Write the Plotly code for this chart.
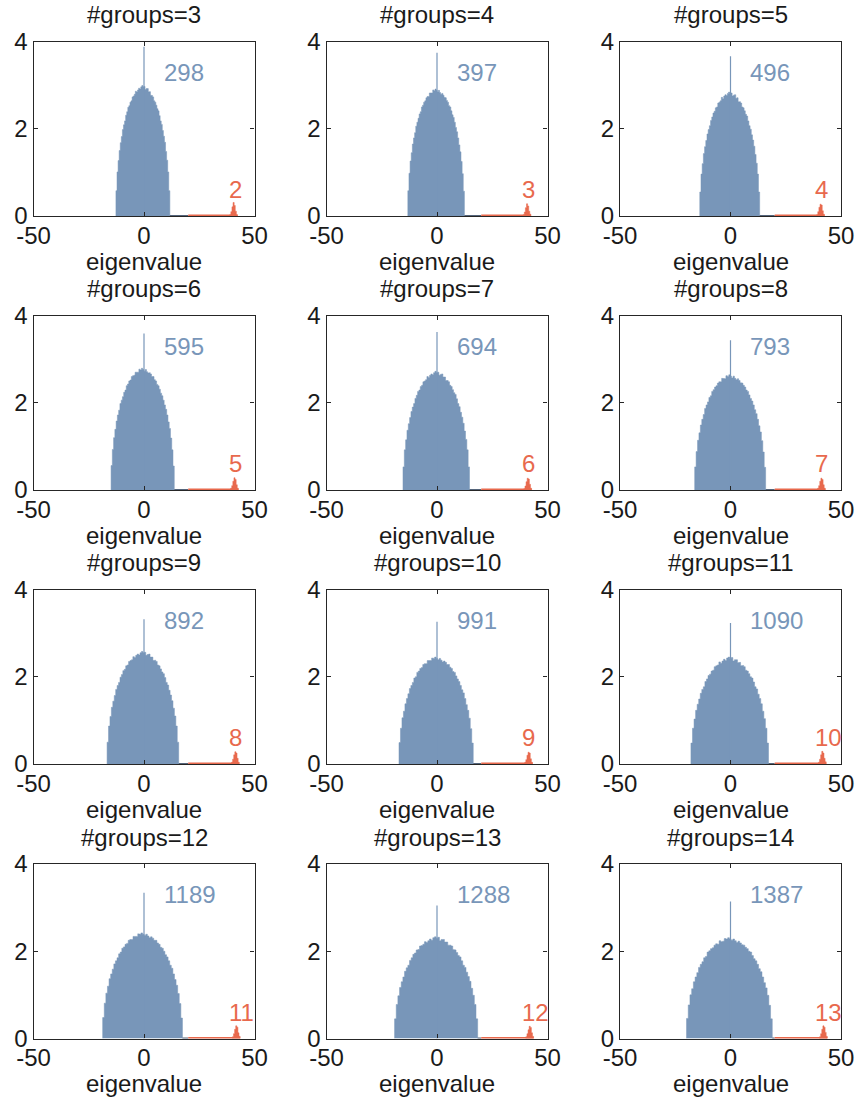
import numpy as np
import plotly.graph_objects as go

# ---- data -------------------------------------------------------------
groups = [3, 4, 5, 6, 7, 8, 9, 10, 11, 12, 13, 14]
bulk_counts = [298, 397, 496, 595, 694, 793, 892, 991, 1090, 1189, 1288, 1387]
outlier_counts = [2, 3, 4, 5, 6, 7, 8, 9, 10, 11, 12, 13]

# bulk histogram: range covered by the 50 bins and the bin heights
bulk_lo = [-12.7, -13.2, -13.9, -14.9, -15.4, -16.2, -16.7, -17.2, -17.9, -18.7, -19.2, -19.9]
bulk_hi = [11.7, 12.4, 13.2, 13.7, 14.7, 15.9, 15.7, 16.4, 17.2, 17.4, 18.4, 18.9]
bulk_heights = [
    [0.58, 1.01, 1.27, 1.50, 1.68, 1.82, 1.98, 2.09, 2.18, 2.31, 2.39, 2.49, 2.53, 2.61, 2.64,
     2.73, 2.75, 2.79, 2.86, 2.84, 2.89, 2.93, 2.91, 2.96, 2.99,
     2.96, 2.97, 2.90, 2.92, 2.92, 2.85, 2.85, 2.77, 2.76, 2.73, 2.64, 2.61, 2.54, 2.46, 2.41,
     2.30, 2.18, 2.10, 1.96, 1.83, 1.69, 1.48, 1.28, 1.01, 0.58],
    [0.58, 0.98, 1.26, 1.45, 1.65, 1.79, 1.91, 2.06, 2.15, 2.24, 2.34, 2.39, 2.50, 2.54, 2.61,
     2.64, 2.71, 2.74, 2.74, 2.82, 2.81, 2.82, 2.89, 2.87, 2.91,
     2.88, 2.84, 2.88, 2.83, 2.79, 2.81, 2.77, 2.72, 2.71, 2.65, 2.61, 2.53, 2.50, 2.41, 2.32,
     2.26, 2.15, 2.03, 1.93, 1.79, 1.63, 1.47, 1.25, 0.97, 0.57],
    [0.55, 0.96, 1.20, 1.43, 1.59, 1.73, 1.88, 1.98, 2.07, 2.19, 2.27, 2.36, 2.40, 2.48, 2.50,
     2.59, 2.61, 2.64, 2.72, 2.69, 2.75, 2.78, 2.76, 2.81, 2.84,
     2.81, 2.82, 2.75, 2.77, 2.78, 2.70, 2.71, 2.62, 2.62, 2.59, 2.50, 2.48, 2.41, 2.33, 2.29,
     2.18, 2.07, 1.99, 1.86, 1.74, 1.60, 1.41, 1.21, 0.96, 0.55],
    [0.56, 0.93, 1.20, 1.39, 1.58, 1.72, 1.83, 1.98, 2.06, 2.14, 2.24, 2.29, 2.39, 2.43, 2.50,
     2.52, 2.60, 2.62, 2.63, 2.70, 2.70, 2.70, 2.77, 2.75, 2.79,
     2.76, 2.72, 2.76, 2.71, 2.68, 2.69, 2.66, 2.60, 2.60, 2.53, 2.50, 2.42, 2.39, 2.31, 2.22,
     2.16, 2.06, 1.95, 1.85, 1.72, 1.56, 1.41, 1.19, 0.92, 0.55],
    [0.53, 0.92, 1.15, 1.37, 1.52, 1.66, 1.80, 1.90, 1.98, 2.10, 2.17, 2.26, 2.29, 2.37, 2.40,
     2.48, 2.50, 2.53, 2.60, 2.58, 2.63, 2.66, 2.64, 2.69, 2.72,
     2.69, 2.70, 2.63, 2.65, 2.66, 2.59, 2.59, 2.51, 2.51, 2.48, 2.40, 2.37, 2.30, 2.23, 2.19,
     2.09, 1.98, 1.91, 1.78, 1.67, 1.53, 1.35, 1.16, 0.92, 0.53],
    [0.53, 0.88, 1.14, 1.31, 1.49, 1.62, 1.73, 1.87, 1.95, 2.02, 2.12, 2.16, 2.26, 2.30, 2.36,
     2.39, 2.45, 2.48, 2.48, 2.56, 2.55, 2.55, 2.62, 2.60, 2.64,
     2.61, 2.57, 2.61, 2.56, 2.53, 2.55, 2.51, 2.46, 2.45, 2.40, 2.36, 2.29, 2.26, 2.18, 2.10,
     2.04, 1.95, 1.84, 1.75, 1.62, 1.47, 1.33, 1.13, 0.87, 0.52],
    [0.50, 0.87, 1.09, 1.30, 1.44, 1.57, 1.71, 1.80, 1.87, 1.99, 2.05, 2.14, 2.17, 2.25, 2.27,
     2.35, 2.37, 2.39, 2.46, 2.44, 2.49, 2.52, 2.50, 2.55, 2.58,
     2.55, 2.56, 2.49, 2.51, 2.52, 2.45, 2.45, 2.37, 2.38, 2.35, 2.27, 2.25, 2.18, 2.11, 2.07,
     1.98, 1.87, 1.81, 1.69, 1.58, 1.45, 1.28, 1.10, 0.87, 0.50],
    [0.49, 0.82, 1.06, 1.21, 1.38, 1.50, 1.61, 1.73, 1.80, 1.87, 1.97, 2.00, 2.10, 2.13, 2.19,
     2.21, 2.28, 2.30, 2.30, 2.37, 2.36, 2.37, 2.43, 2.42, 2.45,
     2.42, 2.39, 2.42, 2.38, 2.34, 2.36, 2.33, 2.28, 2.28, 2.22, 2.19, 2.12, 2.10, 2.02, 1.95,
     1.89, 1.80, 1.70, 1.63, 1.50, 1.36, 1.23, 1.05, 0.81, 0.48],
    [0.48, 0.82, 1.03, 1.23, 1.37, 1.49, 1.62, 1.71, 1.77, 1.89, 1.95, 2.03, 2.06, 2.13, 2.15,
     2.23, 2.25, 2.27, 2.34, 2.31, 2.36, 2.40, 2.37, 2.43, 2.45,
     2.42, 2.44, 2.36, 2.39, 2.39, 2.32, 2.33, 2.25, 2.26, 2.23, 2.15, 2.13, 2.07, 2.00, 1.97,
     1.88, 1.77, 1.72, 1.60, 1.50, 1.38, 1.21, 1.04, 0.82, 0.48],
    [0.48, 0.81, 1.04, 1.20, 1.37, 1.48, 1.59, 1.71, 1.78, 1.85, 1.94, 1.98, 2.07, 2.10, 2.16,
     2.18, 2.25, 2.27, 2.27, 2.34, 2.33, 2.34, 2.40, 2.39, 2.42,
     2.39, 2.36, 2.39, 2.35, 2.31, 2.33, 2.30, 2.25, 2.25, 2.19, 2.16, 2.09, 2.07, 2.00, 1.92,
     1.87, 1.78, 1.68, 1.61, 1.48, 1.35, 1.22, 1.03, 0.80, 0.47],
    [0.45, 0.78, 0.98, 1.17, 1.30, 1.41, 1.54, 1.62, 1.68, 1.79, 1.85, 1.93, 1.96, 2.03, 2.04,
     2.12, 2.13, 2.16, 2.22, 2.20, 2.24, 2.28, 2.25, 2.31, 2.33,
     2.30, 2.32, 2.24, 2.27, 2.27, 2.21, 2.21, 2.14, 2.14, 2.12, 2.04, 2.03, 1.97, 1.90, 1.87,
     1.78, 1.68, 1.63, 1.52, 1.42, 1.31, 1.15, 0.99, 0.78, 0.45],
    [0.46, 0.77, 1.00, 1.14, 1.30, 1.41, 1.51, 1.63, 1.70, 1.76, 1.85, 1.88, 1.98, 2.01, 2.06,
     2.08, 2.14, 2.17, 2.16, 2.24, 2.22, 2.23, 2.29, 2.28, 2.31,
     2.28, 2.25, 2.28, 2.24, 2.20, 2.23, 2.19, 2.15, 2.14, 2.09, 2.06, 2.00, 1.98, 1.90, 1.83,
     1.78, 1.70, 1.60, 1.53, 1.41, 1.28, 1.16, 0.99, 0.76, 0.45],
]
# narrow peak of the bulk at eigenvalue 0
spike_heights = [3.88, 3.74, 3.66, 3.59, 3.62, 3.43, 3.32, 3.26, 3.23, 3.34, 3.05, 3.14]

# outlier histogram: it starts at 20, the bump is made of 0.5-wide bins
outlier_range_start = 20.0
outlier_bump_start = [38.8, 39.0, 39.0, 39.2, 39.3, 39.4, 39.6, 39.7, 39.8, 40.0, 40.2, 40.3]
outlier_heights = [
    [0.03, 0.10, 0.21, 0.31, 0.24, 0.11, 0.03],
    [0.03, 0.09, 0.19, 0.28, 0.23, 0.11, 0.04],
    [0.03, 0.10, 0.20, 0.27, 0.25, 0.12, 0.04],
    [0.04, 0.10, 0.20, 0.28, 0.24, 0.12, 0.04],
    [0.03, 0.09, 0.19, 0.27, 0.25, 0.13, 0.04],
    [0.04, 0.10, 0.20, 0.27, 0.24, 0.12, 0.04],
    [0.04, 0.11, 0.21, 0.28, 0.25, 0.13, 0.04],
    [0.04, 0.10, 0.20, 0.27, 0.25, 0.12, 0.04],
    [0.04, 0.11, 0.21, 0.29, 0.25, 0.13, 0.05],
    [0.04, 0.11, 0.21, 0.29, 0.26, 0.13, 0.05],
    [0.04, 0.11, 0.20, 0.28, 0.25, 0.13, 0.05],
    [0.04, 0.11, 0.21, 0.29, 0.26, 0.14, 0.05],
]
OUTLIER_BIN = 0.5

x_ticks = [-50, 0, 50]
y_ticks = [0, 2, 4]

# ---- style ------------------------------------------------------------
BLUE = "#7896b9"
BLUE_DARK = "#55657b"
RED = "#e8694d"
AXIS = "#262626"
TEXT = "#1a1a1a"
FONT = "Liberation Sans, Arial, Helvetica, sans-serif"
FS = 24

W, H = 858, 1101
col_left = [33.5, 326.5, 620.0]
panel_w = 221.0
row_top = [41.5, 315.5, 589.5, 864.0]
panel_h = 174.5


def step_outline(edges, heights):
    """Vertices of a histogram outline drawn as a closed step polygon."""
    xs = [edges[0]]
    ys = [0.0]
    for j, h in enumerate(heights):
        xs += [edges[j], edges[j + 1]]
        ys += [h, h]
    xs.append(edges[-1])
    ys.append(0.0)
    return xs, ys


fig = go.Figure()
annotations = []
layout_axes = {}

for i, g in enumerate(groups):
    r, c = divmod(i, 3)
    k = i + 1
    xa = "x" if k == 1 else f"x{k}"
    ya = "y" if k == 1 else f"y{k}"

    left = col_left[c]
    top = row_top[r]
    bottom = top + panel_h
    xdom = [left / W, (left + panel_w) / W]
    ydom = [1 - bottom / H, 1 - top / H]

    # bulk histogram
    heights = bulk_heights[i]
    edges = np.linspace(bulk_lo[i], bulk_hi[i], len(heights) + 1)
    bx, by = step_outline(edges, heights)
    fig.add_trace(go.Scatter(
        x=bx, y=by, xaxis=xa, yaxis=ya, mode="lines",
        line=dict(color=BLUE, width=0.5), fill="toself", fillcolor=BLUE,
        showlegend=False, hoverinfo="skip",
    ))
    # zero-height part of the bulk histogram up to the outlier range
    fig.add_trace(go.Scatter(
        x=[bulk_hi[i], outlier_range_start], y=[0, 0], xaxis=xa, yaxis=ya,
        mode="lines", line=dict(color=BLUE_DARK, width=2),
        showlegend=False, hoverinfo="skip", cliponaxis=False,
    ))
    # spike at zero
    fig.add_trace(go.Scatter(
        x=[0, 0], y=[0, spike_heights[i]], xaxis=xa, yaxis=ya, mode="lines",
        line=dict(color=BLUE, width=1.2),
        showlegend=False, hoverinfo="skip",
    ))

    # outlier histogram
    oh = outlier_heights[i]
    oedges = outlier_bump_start[i] + OUTLIER_BIN * np.arange(len(oh) + 1)
    fig.add_trace(go.Scatter(
        x=[outlier_range_start, oedges[-1]], y=[0, 0], xaxis=xa, yaxis=ya,
        mode="lines", line=dict(color=RED, width=3),
        showlegend=False, hoverinfo="skip", cliponaxis=False,
    ))
    rx, ry = step_outline(oedges, oh)
    fig.add_trace(go.Scatter(
        x=rx, y=ry, xaxis=xa, yaxis=ya, mode="lines",
        line=dict(color=RED, width=0.5), fill="toself", fillcolor=RED,
        showlegend=False, hoverinfo="skip",
    ))

    axis_common = dict(
        showline=True, linecolor=AXIS, linewidth=1.3, mirror="ticks",
        ticks="inside", ticklen=4, tickwidth=1, tickcolor=AXIS,
        showgrid=False, zeroline=False, fixedrange=True, automargin=False,
        tickfont=dict(family=FONT, size=FS, color=TEXT),
    )
    layout_axes[f"xaxis{k}"] = dict(
        axis_common, domain=xdom, anchor=ya, range=[-50, 50],
        tickvals=x_ticks, ticktext=[str(v) for v in x_ticks],
        ticklabelstandoff=-2,
    )
    layout_axes[f"yaxis{k}"] = dict(
        axis_common, domain=ydom, anchor=xa, range=[0, 4],
        tickvals=y_ticks, ticktext=[str(v) for v in y_ticks],
    )

    cx = (left + panel_w / 2) / W
    annotations.append(dict(
        text=f"#groups={g}", xref="paper", yref="paper",
        x=cx, y=1 - (top - 27) / H, xanchor="center", yanchor="middle",
        showarrow=False, font=dict(family=FONT, size=FS, color=TEXT),
    ))
    annotations.append(dict(
        text="eigenvalue", xref="paper", yref="paper",
        x=cx, y=1 - (bottom + 45) / H, xanchor="center", yanchor="middle",
        showarrow=False, font=dict(family=FONT, size=FS, color=TEXT),
    ))
    annotations.append(dict(
        text=str(bulk_counts[i]), xref=xa, yref=ya, x=8.0, y=3.3,
        xanchor="left", yanchor="middle", showarrow=False,
        font=dict(family=FONT, size=FS, color=BLUE),
    ))
    annotations.append(dict(
        text=str(outlier_counts[i]), xref=xa, yref=ya, x=37.5, y=0.6,
        xanchor="left", yanchor="middle", showarrow=False,
        font=dict(family=FONT, size=FS, color=RED),
    ))

fig.update_layout(
    template="none",
    width=W, height=H, margin=dict(l=0, r=0, t=0, b=0, pad=0),
    paper_bgcolor="white", plot_bgcolor="white",
    showlegend=False,
    annotations=annotations,
    **layout_axes,
)

fig.write_html("out.html")
